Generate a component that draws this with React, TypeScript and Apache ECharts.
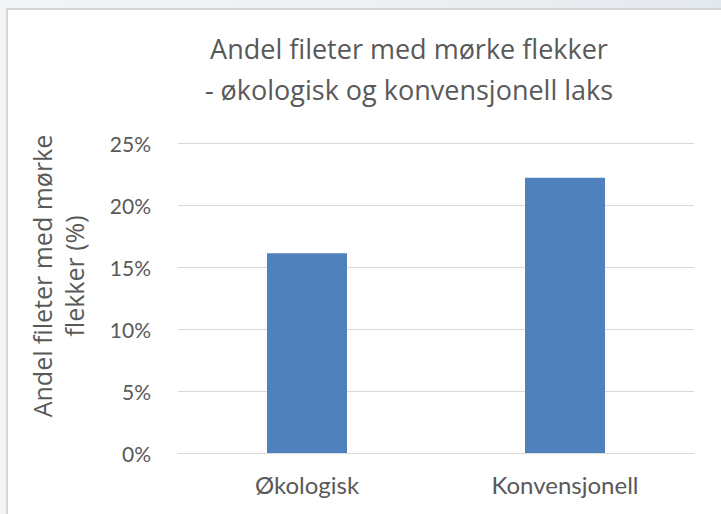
import React, { useEffect, useRef } from "react";
import * as echarts from "echarts";

const categories = ["Økologisk", "Konvensjonell"];
const values = [16.1, 22.2];
const yTicks = [0, 5, 10, 15, 20, 25];
const titleLines = ["Andel fileter med mørke flekker", "- økologisk og konvensjonell laks"];
const yAxisName = ["Andel fileter med mørke", "flekker (%)"];

export default function App() {
  const ref = useRef<HTMLDivElement>(null);
  useEffect(() => {
    document.body.style.margin = "0";
    const chart = echarts.init(ref.current!, null, { renderer: "svg" });
    const font = "Lato, 'Open Sans', sans-serif";
    const font2 = "'Open Sans', Lato, sans-serif";
    chart.setOption({
      animation: false,
      backgroundColor: "#ffffff",
      title: {
        text: titleLines.join("\n"),
        left: 396,
        top: 13,
        textAlign: "center",
        textStyle: {
          fontFamily: font2,
          fontSize: 27,
          fontWeight: "normal",
          color: "#595959",
          lineHeight: 41,
        },
      },
      grid: { left: 170, right: 29, top: 133, bottom: 63 },
      xAxis: {
        type: "category",
        data: categories,
        axisLine: { show: true, lineStyle: { color: "#d9d9d9", width: 1 } },
        axisTick: { show: false },
        axisLabel: { fontFamily: font, fontSize: 24, color: "#595959", margin: 19 },
      },
      yAxis: {
        type: "value",
        min: yTicks[0],
        max: yTicks[yTicks.length - 1],
        interval: 5,
        name: yAxisName.join("\n"),
        nameLocation: "middle",
        nameRotate: 90,
        nameGap: 88,
        nameTextStyle: {
          fontFamily: font2,
          fontSize: 25,
          color: "#595959",
          lineHeight: 32,
          padding: [0, 0, 0, 44],
        },
        axisLine: { show: false },
        axisTick: { show: false },
        splitLine: { lineStyle: { color: "#d9d9d9", width: 1 } },
        axisLabel: {
          fontFamily: font,
          fontSize: 21,
          color: "#595959",
          margin: 27,
          formatter: (v: number) => `${v}%`,
        },
      },
      series: [
        {
          type: "bar",
          data: values,
          barWidth: "31%",
          itemStyle: { color: "#4f81bd" },
        },
      ],
    });
    return () => chart.dispose();
  }, []);
  return (
    <div
      style={{
        position: "relative",
        width: 721,
        height: 514,
        background: "linear-gradient(90deg, #f3f4f5 0%, #eef0f2 50%, #e4e9ee 100%)",
        overflow: "hidden",
      }}
    >
      <div
        style={{
          position: "absolute",
          left: 6,
          top: 8,
          width: 721,
          height: 514,
          borderLeft: "2px solid #d4d6d8",
          borderTop: "2px solid #d4d6d8",
          background: "#fff",
        }}
      >
        <div ref={ref} style={{ width: 715, height: 506 }} />
      </div>
    </div>
  );
}
